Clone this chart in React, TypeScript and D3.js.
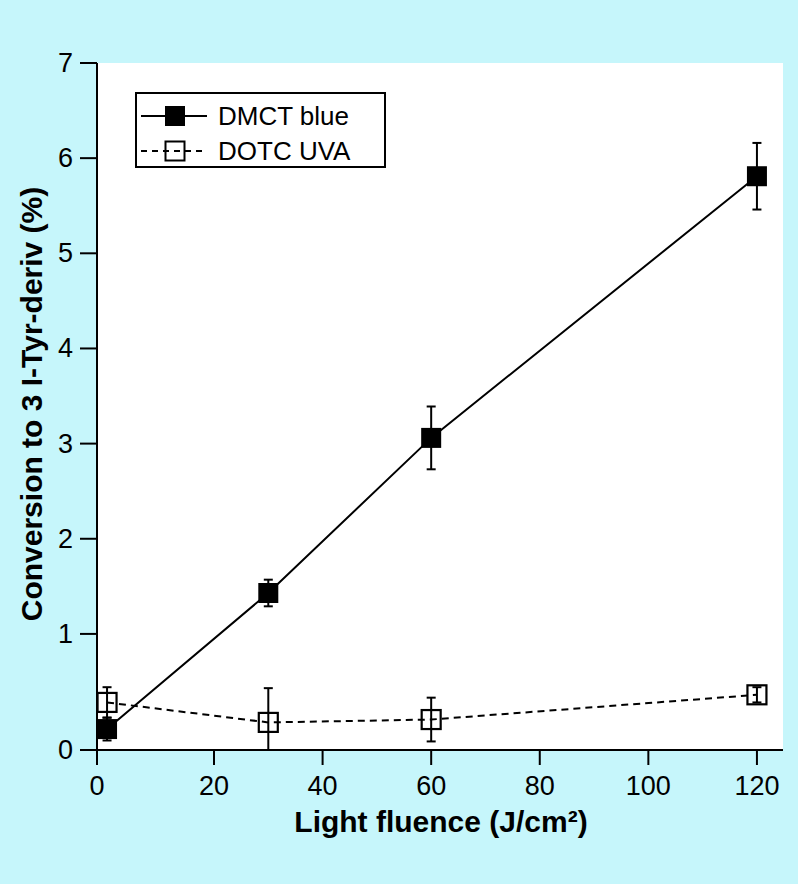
import React from "react";
import * as d3 from "d3";

const fluence = [0.3, 30, 60, 120];
const dmctValues = [0.0, 1.43, 3.06, 5.81];
const dmctErrors = [0.12, 0.14, 0.33, 0.35];
const dotcValues = [0.28, 0.07, 0.1, 0.36];
const dotcErrors = [0.16, 0.36, 0.23, 0.08];
const xTicks = [20, 40, 60, 80, 100, 120];
const yTicks = [1, 2, 3, 4, 5, 6, 7];
const seriesNames = ["DMCT blue", "DOTC UVA"];
const xTitle = "Light fluence (J/cm²)";
const yTitle = "Conversion to 3 I-Tyr-deriv (%)";

const W = 798;
const H = 884;
const left = 97, right = 783, top = 63, bottom = 750;
const font = "'Liberation Sans', Arial, Helvetica, sans-serif";

export default function App() {
  const x = d3.scaleLinear().domain([-1.55, 124.8]).range([left, right]);
  const y = d3.scaleLinear().domain([-0.22, 7]).range([bottom, top]);
  const line = d3
    .line<[number, number]>()
    .x((d) => x(d[0]))
    .y((d) => y(d[1]));
  const dmct: [number, number][] = fluence.map((f, i) => [f, dmctValues[i]]);
  const dotc: [number, number][] = fluence.map((f, i) => [f, dotcValues[i]]);
  const sq = 20;
  const cap = 4.5;

  const errBar = (f: number, v: number, e: number, key: string) => {
    const cx = x(f);
    const y1 = y(v + e);
    const y0raw = y(v - e);
    const y0 = Math.min(y0raw, bottom);
    return (
      <g key={key} stroke="#000" strokeWidth={2}>
        <line x1={cx} x2={cx} y1={y1} y2={y0} />
        <line x1={cx - cap} x2={cx + cap} y1={y1} y2={y1} />
        {y0raw <= bottom && <line x1={cx - cap} x2={cx + cap} y1={y0} y2={y0} />}
      </g>
    );
  };

  return (
    <svg
      width={W}
      height={H}
      style={{ position: "absolute", left: 0, top: 0 }}
      fontFamily={font}
    >
      <rect x={0} y={0} width={W} height={H} fill="#c6f6fb" />
      <rect x={left} y={top} width={right - left} height={bottom - top} fill="#ffffff" />
      <defs>
        <clipPath id="plotclip">
          <rect x={left} y={top - 20} width={right - left + 20} height={bottom - top + 20} />
        </clipPath>
      </defs>

      {/* data */}
      <g clipPath="url(#plotclip)">
        <path d={line(dotc) || ""} fill="none" stroke="#000" strokeWidth={2} strokeDasharray="7,5" />
        <path d={line(dmct) || ""} fill="none" stroke="#000" strokeWidth={2} />
        {fluence.map((f, i) => errBar(f, dotcValues[i], dotcErrors[i], "de" + i))}
        {fluence.map((f, i) => errBar(f, dmctValues[i], dmctErrors[i], "me" + i))}
        {fluence.map((f, i) => (
          <rect
            key={"do" + i}
            x={x(f) - (sq - 1) / 2}
            y={y(dotcValues[i]) - (sq - 1) / 2}
            width={sq - 1}
            height={sq - 1}
            fill="none"
            stroke="#000"
            strokeWidth={2.2}
          />
        ))}
        {fluence.map((f, i) => (
          <rect
            key={"dm" + i}
            x={x(f) - sq / 2}
            y={y(dmctValues[i]) - sq / 2}
            width={sq}
            height={sq}
            fill="#000"
          />
        ))}
      </g>

      {/* axes */}
      <g stroke="#000" strokeWidth={2}>
        <line x1={left} x2={left} y1={top} y2={bottom + 15} />
        <line x1={left - 17} x2={right} y1={bottom} y2={bottom} />
        {yTicks.map((t) => (
          <line key={"yt" + t} x1={left - 17} x2={left} y1={y(t)} y2={y(t)} />
        ))}
        {xTicks.map((t) => (
          <line key={"xt" + t} x1={x(t)} x2={x(t)} y1={bottom} y2={bottom + 15} />
        ))}
      </g>
      <g fontSize={27} fill="#000">
        <text x={left - 24} y={bottom} textAnchor="end" dominantBaseline="central">0</text>
        {yTicks.map((t) => (
          <text key={"yl" + t} x={left - 24} y={y(t)} textAnchor="end" dominantBaseline="central">
            {t}
          </text>
        ))}
        <text x={left} y={795} textAnchor="middle">0</text>
        {xTicks.map((t) => (
          <text key={"xl" + t} x={x(t)} y={795} textAnchor="middle">
            {t}
          </text>
        ))}
      </g>

      <text x={441} y={832} textAnchor="middle" fontSize={30} fontWeight="bold" fill="#000">
        {xTitle}
      </text>
      <text
        transform={`translate(42, 404) rotate(-90)`}
        textAnchor="middle"
        fontSize={30}
        fontWeight="bold"
        fill="#000"
      >
        {yTitle}
      </text>

      {/* legend */}
      <g>
        <rect x={136} y={93} width={249} height={74} fill="#fff" stroke="#000" strokeWidth={2} />
        <line x1={141} x2={207} y1={116} y2={116} stroke="#000" strokeWidth={2} />
        <rect x={175 - sq / 2} y={116 - sq / 2} width={sq} height={sq} fill="#000" />
        <line x1={141} x2={207} y1={151} y2={151} stroke="#000" strokeWidth={2} strokeDasharray="6,5" />
        <rect
          x={175 - (sq - 1) / 2}
          y={151 - (sq - 1) / 2}
          width={sq - 1}
          height={sq - 1}
          fill="none"
          stroke="#000"
          strokeWidth={2}
        />
        <text x={218} y={116} fontSize={26} dominantBaseline="central" fill="#000">{seriesNames[0]}</text>
        <text x={218} y={151} fontSize={26} dominantBaseline="central" fill="#000">{seriesNames[1]}</text>
      </g>
    </svg>
  );
}
